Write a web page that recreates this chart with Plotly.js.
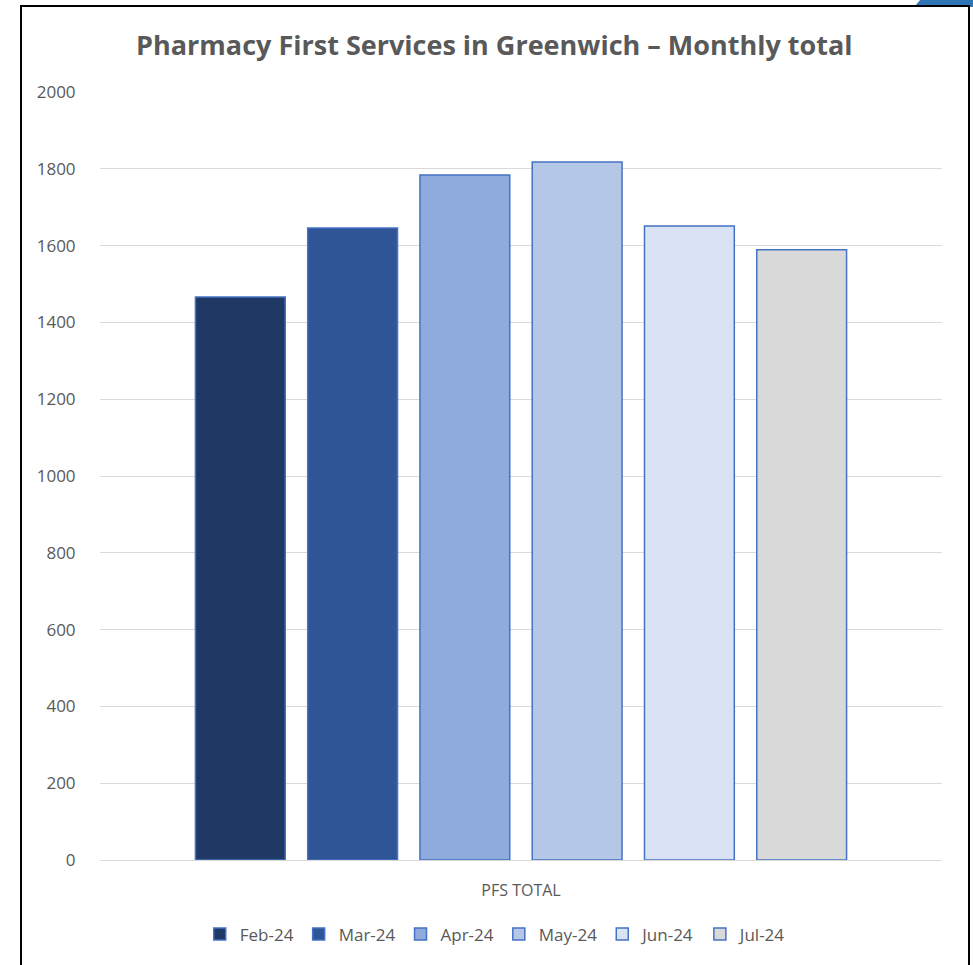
<!DOCTYPE html>
<html><head><meta charset="utf-8">
<script src="https://cdn.plot.ly/plotly-3.0.1.min.js"></script>
<style>
html,body{margin:0;padding:0;background:#fff;overflow:hidden}
#chart{width:973px;height:965px;position:absolute;left:0;top:0}
#frame{position:absolute;left:20px;top:5px;width:946px;height:980px;border:2px solid #000;pointer-events:none}
#corner{position:absolute;left:918px;top:-2px;width:70px;height:9px;background:#2E75B6;transform:skewX(-40deg);}
</style></head>
<body>
<div id="chart"></div>
<div id="corner"></div>
<div id="frame"></div>
<script>
const category = ["PFS TOTAL"];
const months = ["Feb-24","Mar-24","Apr-24","May-24","Jun-24","Jul-24"];
const totals = [1466, 1646, 1784, 1818, 1651, 1589];
const colors = ["#1F3864","#2F5597","#8FAADC","#B4C7E7","#DAE3F3","#D9D9D9"];

const traces = months.map((m,i)=>({
  type:"bar", name:m, x:category, y:[totals[i]],
  marker:{color:colors[i], line:{color:"#4472C4", width:1.5}},
  hoverinfo:"name+y"
}));

const layout = {
  width:973, height:965,
  paper_bgcolor:"#fff", plot_bgcolor:"#fff",
  margin:{l:100, r:31, t:92, b:105},
  font:{family:"Open Sans, Liberation Sans, sans-serif", color:"#595959", size:16},
  title:{text:"<b>Pharmacy First Services in Greenwich – Monthly total</b>",
         font:{size:27, color:"#595959", family:"Open Sans, Liberation Sans, sans-serif"},
         x:0.508, xanchor:"center", y:0.953, yanchor:"middle"},
  barmode:"group", bargap:0.2, bargroupgap:0.2,
  xaxis:{showgrid:false, showline:true, linecolor:"#d9d9d9", linewidth:1,
         tickfont:{size:16, color:"#595959"}, ticks:"outside", ticklen:16, tickcolor:"rgba(0,0,0,0)"},
  yaxis:{range:[0,2000], dtick:200, showgrid:true, gridcolor:"#d9d9d9", gridwidth:1,
         zeroline:false, showline:false, tickfont:{size:17, color:"#595959"}, ticks:"outside",
         ticklen:20, tickcolor:"rgba(0,0,0,0)", fixedrange:true},
  showlegend:true,
  legend:{orientation:"h", x:0.47, xanchor:"center", y:-0.097, yanchor:"middle",
          font:{size:17, color:"#595959"}, traceorder:"normal", itemwidth:30}
};
Plotly.newPlot("chart", traces, layout, {displayModeBar:false, staticPlot:true});
</script>
</body></html>
